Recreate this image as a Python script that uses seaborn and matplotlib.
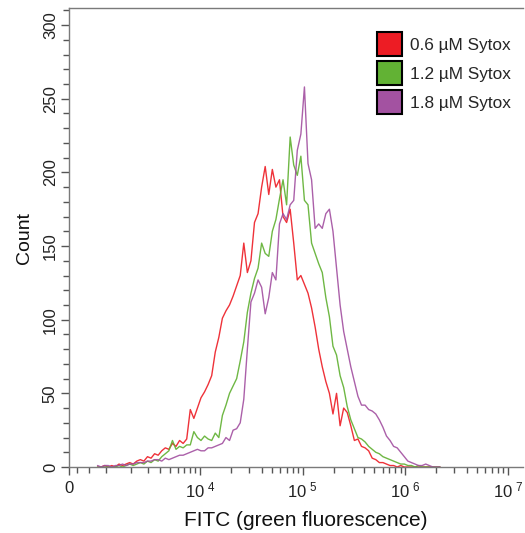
import numpy as np
import pandas as pd
import matplotlib
matplotlib.use("Agg")
import matplotlib.pyplot as plt
from matplotlib.patches import Patch
from matplotlib.ticker import FixedLocator, MultipleLocator
import seaborn as sns

# ---------------- data ----------------
LINEAR_WIDTH = 1060.0          # biexponential (asinh) display parameter
BIN_STEP = 0.08                # bin width in asinh units
bin_index = np.arange(8, 105)  # occupied histogram bins

series_labels = ["0.6 \u00b5M Sytox", "1.2 \u00b5M Sytox", "1.8 \u00b5M Sytox"]
series_colors = ["#ED1C24", "#5FB030", "#A24FA0"]
legend_colors = ["#ED1C24", "#62B234", "#A352A1"]

counts_06 = [0, 0, 1, 0, 1, 0, 2, 1, 2, 3, 2, 4, 5, 4, 7, 6, 9, 8, 11, 13,
             12, 16, 14, 18, 16, 19, 39, 33, 40, 47, 51, 56, 62, 78, 88, 101, 106, 110, 116, 123,
             130, 152, 132, 140, 166, 172, 190, 204, 185, 202, 190, 195, 170, 166, 175, 152, 127, 130, 124, 118,
             108, 95, 80, 68, 58, 50, 36, 50, 28, 40, 37, 28, 18, 19, 14, 13, 11, 6, 5, 3,
             3, 2, 1, 1, 0, 1, 0, 0, 0, 0, 0, 0, 0, 0, 0, 0, 0]
counts_12 = [0, 0, 0, 0, 0, 0, 1, 0, 1, 2, 1, 2, 3, 2, 4, 3, 5, 4, 7, 9,
             11, 18, 12, 14, 13, 15, 15, 24, 20, 18, 21, 19, 18, 23, 20, 35, 42, 50, 55, 60,
             72, 85, 105, 118, 128, 135, 152, 145, 143, 160, 168, 182, 195, 178, 224, 205, 198, 211, 181, 178,
             152, 145, 138, 132, 115, 102, 82, 76, 62, 54, 41, 32, 26, 20, 19, 17, 14, 12, 10, 9,
             7, 6, 5, 4, 3, 2, 2, 1, 1, 0, 1, 0, 0, 0, 0, 0, 0]
counts_18 = [1, 0, 1, 1, 0, 1, 1, 2, 1, 2, 2, 3, 3, 3, 4, 4, 5, 5, 4, 6,
             5, 6, 7, 8, 8, 9, 10, 11, 12, 11, 11, 13, 13, 14, 15, 16, 20, 18, 25, 26,
             30, 46, 80, 112, 118, 127, 122, 104, 115, 132, 127, 165, 172, 168, 178, 181, 215, 226, 258, 206,
             195, 162, 165, 162, 172, 175, 160, 135, 110, 92, 80, 68, 58, 48, 42, 42, 39, 38, 36, 32,
             27, 21, 18, 14, 13, 10, 7, 4, 3, 2, 1, 1, 2, 1, 0, 0, 0]

x_major = [0, 1e4, 1e5, 1e6, 1e7]
x_major_labels = ["0", r"$\mathregular{10^{\ 4}}$", r"$\mathregular{10^{\ 5}}$",
                  r"$\mathregular{10^{\ 6}}$", r"$\mathregular{10^{\ 7}}$"]
x_minor = ([200, 500] + [m * 1e3 for m in range(1, 10)] + [m * 1e4 for m in range(2, 10)]
           + [m * 1e5 for m in range(2, 10)] + [m * 1e6 for m in range(2, 10)])

fitc = LINEAR_WIDTH * np.sinh(bin_index * BIN_STEP)
df = pd.concat([
    pd.DataFrame({"FITC": fitc, "Count": c, "Sample": lab})
    for c, lab in zip([counts_06, counts_12, counts_18], series_labels)
], ignore_index=True)

# ---------------- style ----------------
sns.set_style("ticks")
plt.rcParams["font.family"] = ["Liberation Sans", "DejaVu Sans"]
plt.rcParams["mathtext.fontset"] = "custom"
plt.rcParams["mathtext.rm"] = "Liberation Sans"

fig = plt.figure(figsize=(5.25, 5.33), dpi=100)
ax = fig.add_axes([69 / 525, 1 - 467 / 533, (523 - 69) / 525, (467 - 8) / 533])

sns.lineplot(data=df, x="FITC", y="Count", hue="Sample", palette=series_colors,
             hue_order=series_labels, linewidth=1.0, alpha=0.9, legend=False,
             ax=ax, estimator=None, sort=False)

ax.set_xscale("asinh", linear_width=LINEAR_WIDTH)
ax.set_xlim(0, 1.40e7)
ax.set_ylim(0, 311.6)

ax.xaxis.set_major_locator(FixedLocator(x_major))
ax.set_xticklabels(x_major_labels)
ax.xaxis.set_minor_locator(FixedLocator(x_minor))
ax.yaxis.set_major_locator(MultipleLocator(50))
ax.yaxis.set_minor_locator(MultipleLocator(10))

spine_color = "#7a7a7a"
for s in ["left", "bottom", "top"]:
    ax.spines[s].set_color(spine_color)
    ax.spines[s].set_linewidth(1.0)
ax.spines["right"].set_visible(False)

ax.tick_params(axis="both", which="major", length=6, width=1.0, color="#555555",
               labelsize=12, labelcolor="#222222")
ax.tick_params(axis="both", which="minor", length=4, width=1.0, color="#555555")
ax.tick_params(axis="x", which="major", pad=4)
ax.tick_params(axis="y", which="major", pad=2)
for lab in ax.get_yticklabels():
    lab.set_rotation(90)
    lab.set_va("center")

ax.set_xlabel("FITC (green fluorescence)", fontsize=15, labelpad=9, color="#111111")
ax.xaxis.set_label_coords((305.5 - 69) / 454, -0.095)
ax.set_ylabel("Count", fontsize=14, labelpad=7, color="#111111")

handles = [Patch(facecolor=c, edgecolor="black", linewidth=1.5, label=l)
           for c, l in zip(legend_colors, series_labels)]
fig.legend(handles=handles, loc="upper left", bbox_to_anchor=(377 / 525, 1 - 32 / 533),
           bbox_transform=fig.transFigure, frameon=False, fontsize=12.4,
           handlelength=1.45, handleheight=1.77, labelspacing=0.29, handletextpad=0.45,
           borderpad=0, borderaxespad=0)

fig.savefig("out.png", dpi=100)
